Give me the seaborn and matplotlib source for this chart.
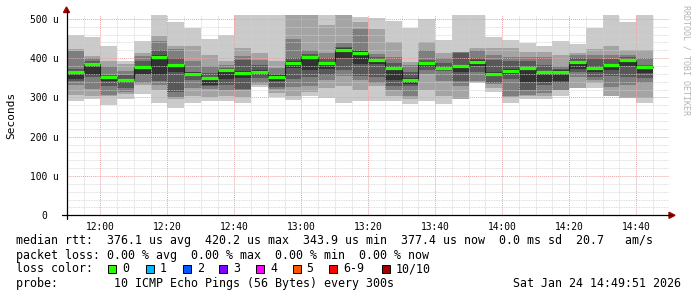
import numpy as np
import pandas as pd
import matplotlib
matplotlib.use("Agg")
import matplotlib.pyplot as plt
import matplotlib.dates as mdates
from matplotlib.ticker import MultipleLocator, FixedLocator
from matplotlib.patches import Rectangle, Polygon
from matplotlib.lines import Line2D
import seaborn as sns

W, H = 697, 297

# ---------------- data ----------------
bar_start = pd.date_range("2026-01-24 11:50", periods=35, freq="5min")
x_start = pd.Timestamp("2026-01-24 11:49:51")
x_end = pd.Timestamp("2026-01-24 14:49:51")

# sorted ping RTTs (microseconds) per 5-minute slot: p1 lowest ... p10 highest
p1 = [290, 297, 281, 297, 309, 286, 273, 287, 290, 290, 286, 326, 300, 294, 303, 298, 287, 292,
      290, 290, 284, 292, 284, 296, 338, 313, 287, 296, 296, 303, 324, 324, 303, 298, 287]
p2 = [307, 304, 303, 310, 332, 320, 297, 303, 302, 304, 300, 332, 312, 303, 313, 324, 330, 320,
      328, 305, 295, 320, 304, 296, 340, 324, 300, 303, 303, 320, 324, 337, 303, 298, 298]
p3 = [332, 321, 307, 313, 337, 332, 300, 324, 321, 320, 318, 338, 322, 326, 330, 345, 355, 345,
      337, 318, 305, 360, 341, 330, 341, 335, 303, 307, 311, 320, 353, 345, 326, 332, 338]
p4 = [342, 352, 330, 323, 356, 341, 315, 345, 328, 332, 321, 349, 326, 347, 353, 358, 370, 355,
      351, 328, 330, 370, 368, 341, 366, 337, 348, 318, 332, 337, 366, 353, 355, 353, 349]
p5 = [348, 358, 341, 338, 360, 358, 364, 355, 332, 348, 350, 358, 341, 375, 370, 372, 400, 385,
      385, 345, 335, 378, 372, 365, 380, 355, 360, 340, 340, 341, 372, 365, 370, 380, 362]
p6 = [368, 388, 353, 348, 380, 408, 386, 365, 353, 372, 368, 370, 357, 392, 405, 390, 425, 418,
      400, 380, 350, 390, 380, 383, 395, 364, 372, 378, 368, 370, 393, 380, 386, 400, 381]
p7 = [373, 392, 358, 356, 394, 421, 400, 366, 362, 376, 396, 383, 360, 400, 410, 400, 428, 420,
      404, 387, 365, 395, 387, 413, 400, 396, 392, 392, 383, 372, 400, 400, 398, 402, 383]
p8 = [419, 400, 381, 368, 406, 445, 423, 392, 379, 383, 406, 396, 375, 448, 421, 413, 438, 474,
      411, 404, 383, 421, 400, 415, 421, 409, 404, 404, 404, 380, 409, 409, 409, 409, 400]
p9 = [423, 406, 394, 386, 414, 457, 430, 431, 409, 392, 425, 414, 392, 520, 520, 485, 520, 493,
      474, 440, 390, 440, 414, 417, 425, 425, 425, 417, 417, 409, 413, 423, 431, 421, 421]
p10 = [458, 453, 430, 393, 444, 520, 493, 478, 449, 459, 515, 515, 520, 530, 530, 520, 530, 504,
       502, 495, 478, 500, 447, 515, 515, 453, 447, 438, 430, 444, 436, 478, 515, 491, 515]
median = [364, 385, 351, 345, 377, 404, 383, 361, 349, 370, 363, 366, 353, 389, 402, 387, 421, 414,
          396, 376, 345, 387, 376, 379, 390, 360, 368, 374, 364, 366, 390, 376, 382, 396, 377]

y_ticks = [0, 100, 200, 300, 400, 500]
y_tick_labels = ["0  ", "100 u", "200 u", "300 u", "400 u", "500 u"]
y_max = 510

smoke_colors = ["#cacaca", "#a4a4a4", "#7e7e7e", "#585858", "#323232"]
median_color = "#26ff00"

loss_labels = ["0", "1", "2", "3", "4", "5", "6-9", "10/10"]
loss_colors = ["#26ff00", "#00b8ff", "#0059ff", "#7e00ff", "#ff00ff", "#ff5500", "#ff0000", "#a10000"]

line_rtt = "median rtt:  376.1 us avg  420.2 us max  343.9 us min  377.4 us now  0.0 ms sd  20.7   am/s"
line_loss = "packet loss: 0.00 % avg  0.00 % max  0.00 % min  0.00 % now"
line_probe = "probe:        10 ICMP Echo Pings (56 Bytes) every 300s"
stamp = "Sat Jan 24 14:49:51 2026"
watermark = "RRDTOOL / TOBI OETIKER"
ylabel = "Seconds"

# ---------------- drawing ----------------
sns.set_theme(style="white")
plt.rcParams["font.family"] = ["DejaVu Sans Mono", "DejaVu Sans"]

fig = plt.figure(figsize=(W / 100, H / 100), dpi=100)
fig.patch.set_facecolor("white")


def fx(px):
    return px / W


def fy(py):
    return 1 - py / H


ax = fig.add_axes([fx(66.5), fy(215.3), (669 - 66.5) / W, (215.3 - 15) / H])
ax.set_facecolor("white")

xs = mdates.date2num(bar_start)
step = 5 / 1440.0
pings = [p1, p2, p3, p4, p5, p6, p7, p8, p9, p10]
for i in range(5):
    lo = np.array(pings[i], dtype=float)
    hi = np.array(pings[9 - i], dtype=float)
    ax.bar(xs, hi - lo, bottom=lo, width=step, align="edge",
           color=smoke_colors[i], linewidth=0, zorder=2)

df = pd.DataFrame({"t": np.append(xs, xs[-1] + step), "rtt": median + [median[-1]]})
sns.lineplot(data=df, x="t", y="rtt", drawstyle="steps-post", color="#202020",
             linewidth=0.8, ax=ax, zorder=3, sort=False)
ax.hlines(median, xs, xs + step, color=median_color, linewidth=2.3, zorder=4)

ax.set_xlim(mdates.date2num(x_start), mdates.date2num(x_end))
ax.set_ylim(0, y_max)

ax.xaxis.set_major_locator(mdates.MinuteLocator(byminute=[0, 20, 40]))
ax.xaxis.set_minor_locator(mdates.MinuteLocator(byminute=range(0, 60, 5)))
ax.xaxis.set_major_formatter(mdates.DateFormatter("%H:%M"))
ax.yaxis.set_major_locator(FixedLocator(y_ticks))
ax.set_yticklabels(y_tick_labels)
ax.yaxis.set_minor_locator(MultipleLocator(20))

ax.set_axisbelow(False)
ax.grid(which="minor", color="#d2d2d2", linestyle=(0, (1, 1)), linewidth=0.6)
ax.grid(which="major", color="#eaa4a4", linestyle=(0, (1, 1)), linewidth=0.7)

for s in ax.spines.values():
    s.set_visible(False)

ax.tick_params(axis="both", which="major", length=2.2, width=0.7, color="black",
               direction="out", labelsize=6.9, labelcolor="black")
ax.tick_params(axis="both", which="minor", length=0)
ax.tick_params(axis="x", which="major", pad=2.5)
ax.tick_params(axis="y", which="major", pad=3.2)
ax.set_xlabel("")
ax.set_ylabel("")

# axis lines and arrows
fig.add_artist(Line2D([fx(62), fx(672)], [fy(215.3), fy(215.3)], color="black", linewidth=0.9))
fig.add_artist(Line2D([fx(66.5), fx(66.5)], [fy(219), fy(10)], color="black", linewidth=0.9))
fig.add_artist(Polygon([[fx(669), fy(212.3)], [fx(669), fy(218.3)], [fx(675), fy(215.3)]],
                       closed=True, color="#a00000", transform=fig.transFigure))
fig.add_artist(Polygon([[fx(63.5), fy(12.5)], [fx(69.5), fy(12.5)], [fx(66.5), fy(7)]],
                       closed=True, color="#a00000", transform=fig.transFigure))

# y label
fig.text(fx(11), fy(115), ylabel, rotation=90, ha="center", va="center", fontsize=8.0, color="black")

# watermark
fig.text(fx(686), fy(5), watermark, rotation=270, ha="center", va="top", fontsize=6.0, color="#b4b4b4")

# legend / info lines
fs = 8.4
fig.text(fx(16), fy(240.5), line_rtt, ha="left", va="center", fontsize=fs, color="black")
fig.text(fx(16), fy(255), line_loss, ha="left", va="center", fontsize=fs, color="black")
fig.text(fx(16), fy(269), "loss color:", ha="left", va="center", fontsize=fs, color="black")
item_x = [108.3, 145.7, 182.7, 219.3, 256.0, 292.7, 329.3, 381.7]
for lx, lab, col in zip(item_x, loss_labels, loss_colors):
    fig.add_artist(Rectangle((fx(lx), fy(273)), 8 / W, 8 / H, transform=fig.transFigure,
                             facecolor=col, edgecolor="black", linewidth=0.7))
    fig.text(fx(lx + 14), fy(269), lab, ha="left", va="center", fontsize=fs, color="black")
fig.text(fx(16), fy(283.3), line_probe, ha="left", va="center", fontsize=fs, color="black")
fig.text(fx(681), fy(283.3), stamp, ha="right", va="center", fontsize=fs, color="black")

fig.savefig("out.png", dpi=100, facecolor="white")
